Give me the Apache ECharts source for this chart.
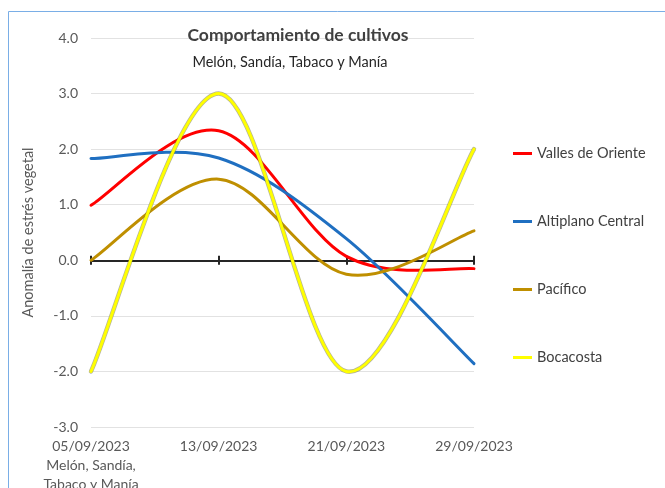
<!DOCTYPE html>
<html>
<head>
<meta charset="utf-8">
<script src="https://cdn.jsdelivr.net/npm/echarts@6/dist/echarts.min.js"></script>
<style>
html,body{margin:0;padding:0;background:#fff;}
#chart{width:665px;height:488px;}
</style>
</head>
<body>
<div id="chart"></div>
<script>
// ---- data ----
const categories = ['05/09/2023\nMelón, Sandía,\nTabaco y Manía', '13/09/2023', '21/09/2023', '29/09/2023'];
const seriesNames = ['Valles de Oriente', 'Altiplano Central', 'Pacífico', 'Bocacosta'];
const vallesDeOriente = [0.99, 2.33, 0.07, -0.15];
const altiplanoCentral = [1.83, 1.84, 0.39, -1.86];
const pacifico = [0.0, 1.46, -0.25, 0.53];
const bocacosta = [-2.0, 3.0, -2.0, 2.0];
const yMin = -3, yMax = 4, yStep = 1;
const titleText = 'Comportamiento de cultivos';
const subtitleText = 'Melón, Sandía, Tabaco y Manía';
const yAxisName = 'Anomalía de estrés vegetal';

// ---- styling ----
const colors = ['#ff0000', '#1f6fc1', '#bf8f00', '#ffff00'];
const FONT = 'Lato';
const valuesList = [vallesDeOriente, altiplanoCentral, pacifico, bocacosta];

function smoothPath(pts) {
  let d = 'M' + pts[0][0] + ' ' + pts[0][1];
  for (let i = 0; i < pts.length - 1; i++) {
    const p0 = pts[Math.max(i - 1, 0)], p1 = pts[i], p2 = pts[i + 1], p3 = pts[Math.min(i + 2, pts.length - 1)];
    const c1 = [p1[0] + (p2[0] - p0[0]) / 6, p1[1] + (p2[1] - p0[1]) / 6];
    const c2 = [p2[0] - (p3[0] - p1[0]) / 6, p2[1] - (p3[1] - p1[1]) / 6];
    d += ' C' + c1[0] + ' ' + c1[1] + ' ' + c2[0] + ' ' + c2[1] + ' ' + p2[0] + ' ' + p2[1];
  }
  return d;
}

function makeSeries(name, values, color, outline) {
  return {
    type: 'custom',
    name: name,
    coordinateSystem: 'cartesian2d',
    xAxisIndex: 0,
    yAxisIndex: 0,
    itemStyle: { color: color },
    encode: { x: 0, y: 1 },
    data: values.map((v, i) => [i, v]),
    renderItem: function (params, api) {
      if (params.dataIndex !== 0) return null;
      const pts = values.map((v, i) => api.coord([i, v]));
      const d = smoothPath(pts);
      const children = [];
      if (outline) {
        children.push({ type: 'path', shape: { pathData: d }, style: { fill: null, stroke: outline, lineWidth: 4.4, lineCap: 'round', lineJoin: 'round' } });
      }
      children.push({ type: 'path', shape: { pathData: d }, style: { fill: null, stroke: color, lineWidth: 3, lineCap: 'round', lineJoin: 'round' } });
      return { type: 'group', children: children };
    }
  };
}

const chart = echarts.init(document.getElementById('chart'));
const option = {
  backgroundColor: '#ffffff',
  animation: false,
  textStyle: { fontFamily: FONT },
  graphic: [{
    type: 'rect',
    shape: { x: 8.5, y: 11.5, width: 700, height: 520 },
    style: { fill: null, stroke: '#7aaee6', lineWidth: 1 },
    silent: true
  }],
  title: [
    { text: titleText, left: 298, top: 26, textAlign: 'center', padding: 0,
      textStyle: { fontFamily: FONT, fontSize: 17.5, fontWeight: 'bold', color: '#404040' } },
    { text: subtitleText, left: 290, top: 55, textAlign: 'center', padding: 0,
      textStyle: { fontFamily: FONT, fontSize: 14.5, fontWeight: 'normal', color: '#262626' } }
  ],
  legend: {
    orient: 'vertical',
    left: 513,
    top: 146,
    padding: 0,
    itemWidth: 19,
    itemHeight: 3,
    itemGap: 53,
    textStyle: { fontFamily: FONT, fontSize: 14.5, color: '#404040' },
    data: seriesNames.map(n => ({ name: n, icon: 'rect' }))
  },
  grid: { left: 91, right: 191, top: 38, bottom: 61, containLabel: false, outerBoundsMode: 'none' },
  xAxis: [
    { type: 'category', data: categories, boundaryGap: false, position: 'bottom',
      axisLine: { show: false, onZero: false }, axisTick: { show: false },
      splitLine: { show: false },
      axisLabel: { interval: 0, margin: 10, fontFamily: FONT, fontSize: 14, color: '#595959', lineHeight: 19, align: 'center' } },
    { type: 'category', data: categories, boundaryGap: false, position: 'top',
      axisLine: { show: true, onZero: true, onZeroAxisIndex: 0, lineStyle: { color: '#262626', width: 2 } },
      axisTick: { show: true, interval: 0, length: 4.5, inside: false, lineStyle: { color: '#262626', width: 2 } },
      axisLabel: { show: false }, splitLine: { show: false } },
    { type: 'category', data: categories, boundaryGap: false, position: 'bottom',
      axisLine: { show: false, onZero: true, onZeroAxisIndex: 0 },
      axisTick: { show: true, interval: 0, length: 4.5, inside: false, lineStyle: { color: '#262626', width: 2 } },
      axisLabel: { show: false }, splitLine: { show: false } }
  ],
  yAxis: [{
    type: 'value', min: yMin, max: yMax, interval: yStep,
    name: yAxisName, nameLocation: 'middle', nameGap: 55,
    nameTextStyle: { fontFamily: FONT, fontSize: 14.5, color: '#595959' },
    axisLine: { show: false }, axisTick: { show: false },
    axisLabel: { margin: 13, fontFamily: FONT, fontSize: 14, color: '#595959', formatter: v => v.toFixed(1) },
    splitLine: { show: true, lineStyle: { color: '#e2e2e2', width: 1 } }
  }],
  series: [
    makeSeries(seriesNames[0], valuesList[0], colors[0], null),
    makeSeries(seriesNames[1], valuesList[1], colors[1], null),
    makeSeries(seriesNames[2], valuesList[2], colors[2], null),
    makeSeries(seriesNames[3], valuesList[3], colors[3], 'rgba(120,120,70,0.55)')
  ]
};
chart.setOption(option);
</script>
</body>
</html>
